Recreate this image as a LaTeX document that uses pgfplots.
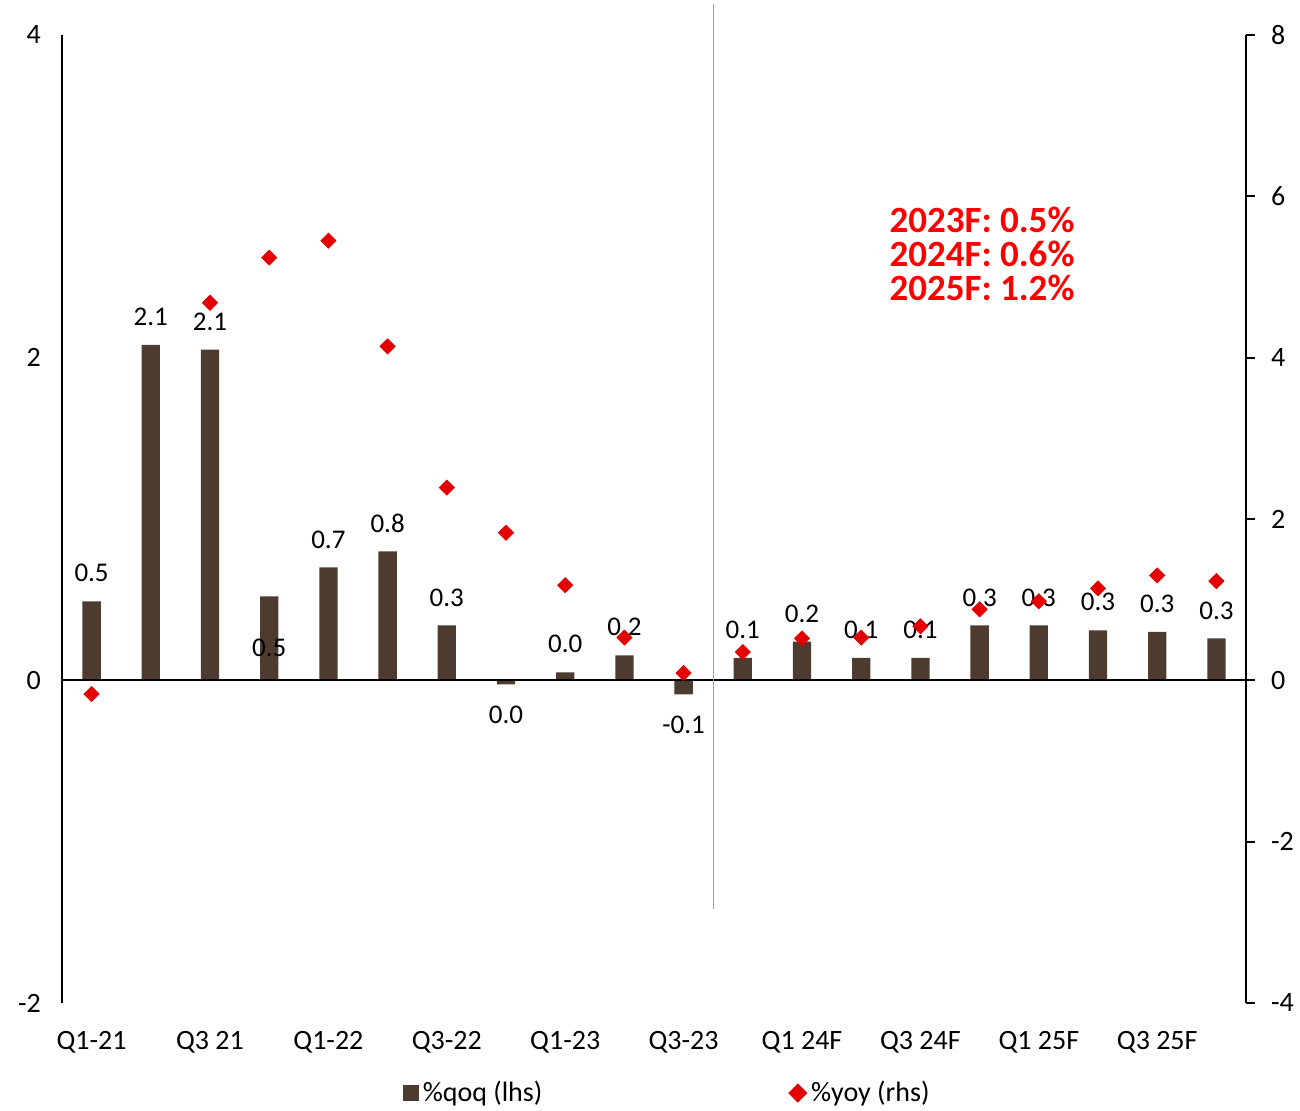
\documentclass[border=0pt]{standalone}
\usepackage{fontspec}
\setmainfont{Carlito}
\usepackage{pgfplots}
\usepackage{pgfplotstable}
\pgfplotsset{compat=1.18}

\definecolor{qoqbrown}{RGB}{78,59,48}
\definecolor{yoyred}{RGB}{228,0,0}
\definecolor{annred}{RGB}{255,0,0}
\definecolor{splitgray}{RGB}{160,160,160}

% x: quarter index, qoq: %qoq (lhs), lab: printed label, dy: label offset (pt), yoy: %yoy (rhs)
\pgfplotstableread{
x  qoq    lab   dy     yoy
0  0.49   0.5   14     -0.17
1  2.08   2.1   14     nan
2  2.05   2.1   14     4.68
3  0.52   0.5   -25.5  5.24
4  0.70   0.7   14     5.45
5  0.80   0.8   14     4.14
6  0.34   0.3   14     2.39
7  -0.025 0.0   -15    1.83
8  0.05   0.0   14     1.18
9  0.155  0.2   14     0.53
10 -0.087 -0.1  -15    0.09
11 0.14   0.1   14     0.35
12 0.24   0.2   14     0.52
13 0.14   0.1   14     0.53
14 0.14   0.1   14     0.67
15 0.34   0.3   14     0.88
16 0.34   0.3   14     0.98
17 0.31   0.3   14     1.14
18 0.30   0.3   14     1.30
19 0.26   0.3   14     1.23
}\gdp

\begin{document}
\begin{tikzpicture}[font=\fontsize{14}{17}\selectfont]
\useasboundingbox (-31pt,-53.5pt) rectangle (619pt,501.5pt);

% left axis: quarterly growth bars
\begin{axis}[
  at={(0,0)}, anchor=south west,
  scale only axis, width=592pt, height=484pt,
  xmin=-0.5, xmax=19.5, ymin=-2, ymax=4,
  clip=false,
  separate axis lines,
  axis x line*=bottom, axis y line*=left,
  x axis line style={draw=none},
  y axis line style={line width=1pt},
  xtick={0,2,...,18},
  xticklabels={Q1-21, Q3 21, Q1-22, Q3-22, Q1-23, Q3-23, Q1 24F, Q3 24F, Q1 25F, Q3 25F},
  ytick={-2,0,2,4},
  yticklabels={-2,0,2,4},
  tick style={draw=none},
  major tick length=0pt,
  xticklabel style={font=\fontsize{14}{17}\selectfont, yshift=-10.5pt},
  yticklabel style={font=\fontsize{14}{17}\selectfont, xshift=-7pt},
  legend style={at={(0.512,-0.093)}, anchor=center, draw=none, fill=none,
    legend columns=2, font=\fontsize{14}{17}\selectfont,
    /tikz/every even column/.append style={column sep=121pt},
    legend cell align=left},
]
\addplot[ybar, bar width=9.15pt, fill=qoqbrown, draw=none,
  point meta=explicit symbolic,
  visualization depends on={\thisrow{dy} \as \dy},
  nodes near coords,
  nodes near coords style={anchor=center, yshift=\dy pt, text=black,
    font=\fontsize{13.5}{16}\selectfont},
  legend image code/.code={\fill[qoqbrown] (0pt,-4pt) rectangle (8pt,4pt);},
] table[x=x, y=qoq, meta=lab] {\gdp};
\addlegendentry{\%qoq (lhs)}
\addlegendimage{legend image code/.code={\fill[yoyred] (0pt,0pt) -- (4.5pt,4.5pt) -- (9pt,0pt) -- (4.5pt,-4.5pt) -- cycle;}}
\addlegendentry{\%yoy (rhs)}

% zero line and forecast divider
\draw[black, line width=0.9pt] (axis cs:-0.5,0) -- (axis cs:19.5,0);
\draw[splitgray, line width=0.7pt] (axis cs:10.5,4.19) -- (axis cs:10.5,-1.42);

% annual forecasts
\node[anchor=center, align=left, text=annred,
  font=\fontsize{18.5}{17}\selectfont\bfseries]
  at (axis cs:15.04,2.644) {2023F: 0.5\%\\2024F: 0.6\%\\2025F: 1.2\%};
\end{axis}

% right axis: year-on-year growth
\begin{axis}[
  at={(0,0)}, anchor=south west,
  scale only axis, width=592pt, height=484pt,
  xmin=-0.5, xmax=19.5, ymin=-4, ymax=8,
  axis x line=none,
  axis y line*=right,
  y axis line style={line width=1pt},
  ytick={-4,-2,0,2,4,6,8},
  yticklabels={-4,-2,0,2,4,6,8},
  tick align=outside,
  major tick length=4.5pt,
  tick style={black, line width=1pt},
  yticklabel style={font=\fontsize{14}{17}\selectfont, xshift=4.5pt},
]
\addplot[only marks, mark=square*, mark size=2.65pt,
  mark options={rotate=45, fill=yoyred, draw=yoyred}]
  table[x=x, y=yoy] {\gdp};
\end{axis}
\end{tikzpicture}
\end{document}
